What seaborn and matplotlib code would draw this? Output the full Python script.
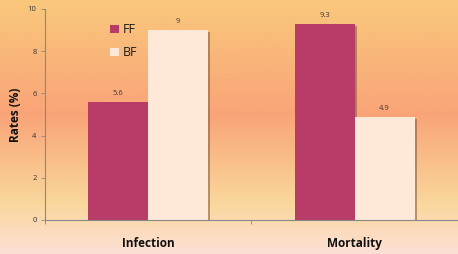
import numpy as np
import pandas as pd
import matplotlib
matplotlib.use("Agg")
import matplotlib.pyplot as plt
import matplotlib.patheffects as pe
from matplotlib.patches import Patch
from matplotlib.colors import LinearSegmentedColormap
import seaborn as sns

categories = ["Infection", "Mortality"]
series = ["FF", "BF"]
ff_values = [5.6, 9.3]
bf_values = [9, 4.9]
value_labels_ff = ["5.6", "9.3"]
value_labels_bf = ["9", "4.9"]
colors = {"FF": "#B83B68", "BF": "#FEE8D8"}

df = pd.DataFrame({
    "Category": categories * 2,
    "Group": ["FF"] * len(categories) + ["BF"] * len(categories),
    "Rate": ff_values + bf_values,
})

sns.set_theme(style="white")
plt.rcParams["font.family"] = ["Open Sans", "DejaVu Sans"]

fig = plt.figure(figsize=(4.58, 2.54), dpi=100)

# background gradient
bg = fig.add_axes([0, 0, 1, 1], zorder=-10)
cmap = LinearSegmentedColormap.from_list(
    "bg", [(0.0, "#F9C87C"), (0.45, "#F9A478"), (0.80, "#FAD79C"), (1.0, "#FDE0D6")])
grad = np.linspace(0, 1, 256).reshape(-1, 1)
bg.imshow(grad, aspect="auto", cmap=cmap, extent=[0, 1, 0, 1], origin="upper")
bg.axis("off")

ax = fig.add_axes([0.098, 0.134, 0.902, 0.831])
ax.set_facecolor("none")
sns.barplot(data=df, x="Category", y="Rate", hue="Group", hue_order=series,
            palette=colors, width=0.58, ax=ax, legend=False, saturation=1,
            edgecolor="none", linewidth=0)

shadow = [pe.SimplePatchShadow(offset=(1.5, -1.5), shadow_rgbFace="#7a5a3a", alpha=0.55), pe.Normal()]
for p in ax.patches:
    p.set_path_effects(shadow)

labels = value_labels_ff + value_labels_bf
for p, lab in zip(ax.patches, labels):
    ax.text(p.get_x() + p.get_width() / 2, p.get_height() + 0.22, lab,
            ha="center", va="bottom", fontsize=5.5, color="#3a3a3a")

ax.set_ylim(0, 10)
ax.set_xlim(-0.5, 1.5)
ax.set_yticks([0, 2, 4, 6, 8, 10])
ax.tick_params(axis="y", labelsize=5.5, length=3, width=0.6, color="#888888",
               left=True, labelcolor="#333333", pad=3)
ax.set_xticks([0, 1])
ax.set_xticklabels(categories, fontsize=8.5, fontweight="bold")
ax.set_xticks([-0.5, 0.5], minor=True)
ax.tick_params(axis="x", which="major", length=0, pad=12, labelcolor="#111111")
ax.tick_params(axis="x", which="minor", length=3, width=0.6, color="#888888", bottom=True)
ax.set_xlabel("")
ax.set_ylabel("Rates (%)", fontsize=8.5, fontweight="bold", labelpad=4, color="#111111")

for s in ["top", "right"]:
    ax.spines[s].set_visible(False)
for s in ["left", "bottom"]:
    ax.spines[s].set_color("#888888")
    ax.spines[s].set_linewidth(0.8)

handles = [Patch(facecolor=colors[s], edgecolor="none", label=s) for s in series]
ax.legend(handles=handles, loc="upper left", bbox_to_anchor=(0.13, 0.985),
          frameon=False, fontsize=9, handlelength=0.7, handleheight=0.7,
          handletextpad=0.3, labelspacing=0.8, labelcolor="#1a1a1a")

fig.savefig("out.png", dpi=100)
